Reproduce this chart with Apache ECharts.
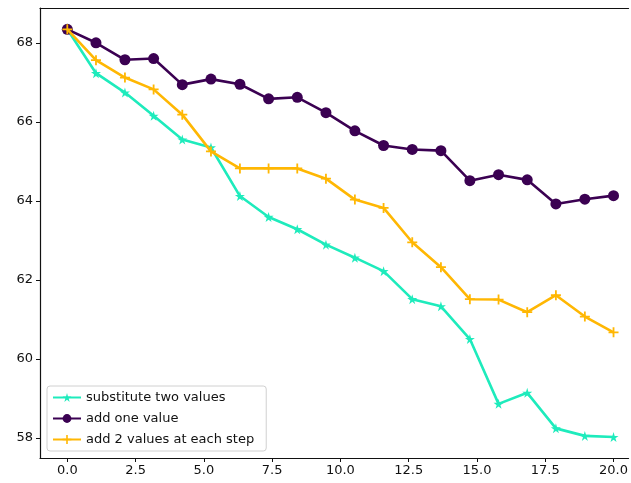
<!DOCTYPE html>
<html>
<head>
<meta charset="utf-8">
<script src="https://cdn.jsdelivr.net/npm/echarts@6/dist/echarts.min.js"></script>
<style>
  html, body { margin: 0; padding: 0; background: #fff; }
  #chart { width: 631px; height: 483px; }
</style>
</head>
<body>
<div id="chart"></div>
<script>
// step positions on the x axis
const steps = [0, 1.05, 2.11, 3.16, 4.21, 5.26, 6.32, 7.37, 8.42, 9.47,
  10.53, 11.58, 12.63, 13.68, 14.74, 15.79, 16.84, 17.89, 18.95, 20]

const substituteTwo = [68.34, 67.23, 66.74, 66.15, 65.55, 65.35, 64.12, 63.59, 63.28, 62.89,
  62.56, 62.22, 61.51, 61.33, 60.50, 58.86, 59.14, 58.24, 58.05, 58.02]
const addOne = [68.34, 68.00, 67.57, 67.60, 66.94, 67.08, 66.95, 66.58, 66.62, 66.23,
  65.77, 65.40, 65.30, 65.27, 64.51, 64.66, 64.53, 63.92, 64.04, 64.13]
const addTwoEachStep = [68.34, 67.56, 67.12, 66.82, 66.18, 65.25, 64.82, 64.82, 64.82, 64.56,
  64.03, 63.82, 62.95, 62.32, 61.51, 61.50, 61.18, 61.61, 61.07, 60.67]

const xTicks = [0, 2.5, 5, 7.5, 10, 12.5, 15, 17.5, 20]
const yTicks = [58, 60, 62, 64, 66, 68]

const starPath = 'path://M50,0 L61,35 L98,35 L68,57 L79,91 L50,70 L21,91 L32,57 L2,35 L39,35 Z'
const plusPath = 'path://M4.1,0 H5.9 V4.1 H10 V5.9 H5.9 V10 H4.1 V5.9 H0 V4.1 H4.1 Z'

const pairs = ys => steps.map((x, i) => [x, ys[i]])

const font = 'DejaVu Sans'
const chart = echarts.init(document.getElementById('chart'), null, { renderer: 'canvas' })

// the original figure is cut off on the right, so the x range runs past 21 off-canvas
const xMin = -1
const xMax = 20.55

chart.setOption({
  animation: false,
  backgroundColor: '#fff',
  textStyle: { fontFamily: font },
  grid: {
    left: 40,
    top: 8,
    right: 0,
    bottom: 25
  },
  legend: {
    orient: 'vertical',
    left: 47,
    top: 386,
    padding: [5, 12, 5, 5],
    itemGap: 8,
    itemWidth: 28,
    itemHeight: 11,
    backgroundColor: 'rgba(255,255,255,0.8)',
    borderColor: '#d0d0d0',
    borderWidth: 1,
    borderRadius: 3,
    textStyle: { fontFamily: font, fontSize: 13, color: '#111' },
    data: ['substitute two values', 'add one value', 'add 2 values at each step']
  },
  xAxis: [{
    type: 'value',
    min: xMin,
    max: xMax,
    splitLine: { show: false },
    axisLine: { onZero: false, lineStyle: { color: '#111', width: 1.2 } },
    axisTick: { show: true, length: 4, customValues: xTicks, lineStyle: { color: '#111' } },
    axisLabel: {
      customValues: xTicks,
      formatter: v => v.toFixed(1),
      color: '#111',
      fontSize: 13,
      fontFamily: font,
      margin: 6
    }
  }, {
    type: 'value',
    position: 'top',
    min: xMin,
    max: xMax,
    splitLine: { show: false },
    axisLine: { show: true, onZero: false, lineStyle: { color: '#111', width: 1.2 } },
    axisTick: { show: false },
    axisLabel: { show: false }
  }],
  yAxis: {
    type: 'value',
    min: 57.49,
    max: 68.88,
    splitLine: { show: false },
    axisLine: { show: true, onZero: false, lineStyle: { color: '#111', width: 1.2 } },
    axisTick: { show: true, length: 4, customValues: yTicks, lineStyle: { color: '#111' } },
    axisLabel: {
      customValues: yTicks,
      formatter: v => String(Math.round(v)),
      color: '#111',
      fontSize: 13,
      fontFamily: font,
      margin: 7
    }
  },
  series: [
    {
      name: 'substitute two values',
      type: 'line',
      data: pairs(substituteTwo),
      symbol: starPath,
      symbolSize: 10,
      color: '#1eebbc',
      lineStyle: { width: 2.6 },
      z: 2
    },
    {
      name: 'add one value',
      type: 'line',
      data: pairs(addOne),
      symbol: 'circle',
      symbolSize: 11,
      color: '#3b0152',
      lineStyle: { width: 2.6 },
      z: 3
    },
    {
      name: 'add 2 values at each step',
      type: 'line',
      data: pairs(addTwoEachStep),
      symbol: plusPath,
      symbolSize: 10,
      color: '#ffb703',
      lineStyle: { width: 2.6 },
      z: 4
    }
  ]
})
</script>
</body>
</html>
